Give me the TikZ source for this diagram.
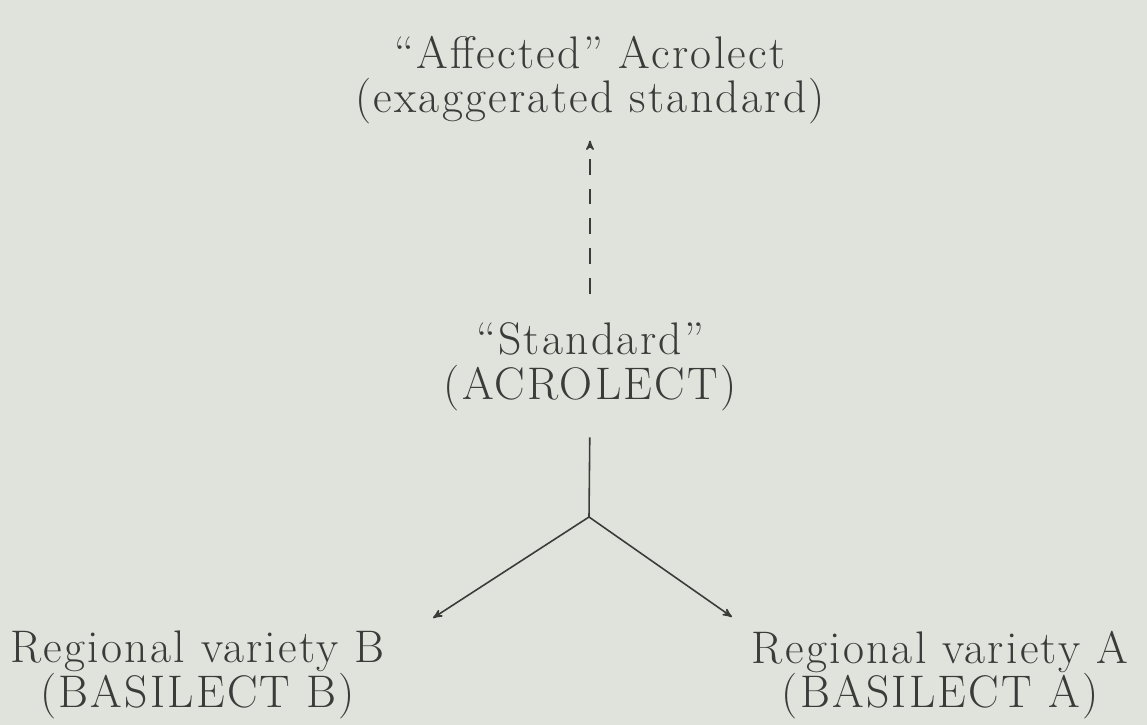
\documentclass[tikz,border=0pt]{standalone}
\usepackage{fontspec}
\setmainfont{Latin Modern Roman}
\usepackage{xcolor}
\usepackage{tikz}
\usetikzlibrary{arrows, positioning, calc}
\definecolor{paper}{RGB}{223,227,220}
\definecolor{ink}{RGB}{58,60,58}
\tikzset{
    lect/.style={
        align=center,
        text=ink,
        font=\fontsize{26}{25.5}\selectfont\addfontfeatures{LetterSpace=5},
        inner sep=2pt,
    },
    link/.style={
        draw=ink,
        line width=0.9pt,
    },
}

\begin{document}
\begin{tikzpicture}[>=stealth']
          % page
          \fill[paper] (0,0) rectangle (22.94,14.5);
          \useasboundingbox (0,0) rectangle (22.94,14.5);

          \node [lect] (Affected) at (11.8,12.9) {``Affected'' Acrolect\\(exaggerated standard)};
          \node [lect] (Standard) at (11.8,7.16) {``Standard''\\(ACROLECT)};
          \node [lect] (VarB) at (3.95,1.0) {Regional variety B\\(BASILECT B)};
          \node [lect] (VarA) at (18.8,1.0) {Regional variety A\\(BASILECT A)};

          \coordinate (fork) at (11.78,4.16);
          \coordinate (tipB) at ($(fork)+(-3.12,-2.02)$);
          \coordinate (tipA) at ($(fork)+(2.86,-2.0)$);

          \draw[link, ->, dash pattern=on 9pt off 8pt, shorten <=0.5cm, shorten >=0.25cm] (Standard.north) -- (Affected.south);
          \draw[link, shorten <=0.45cm] (Standard.south) -- (fork);
          \draw[link, ->] (fork) -- (tipB);
          \draw[link, ->] (fork) -- (tipA);
        \end{tikzpicture}
\end{document}
